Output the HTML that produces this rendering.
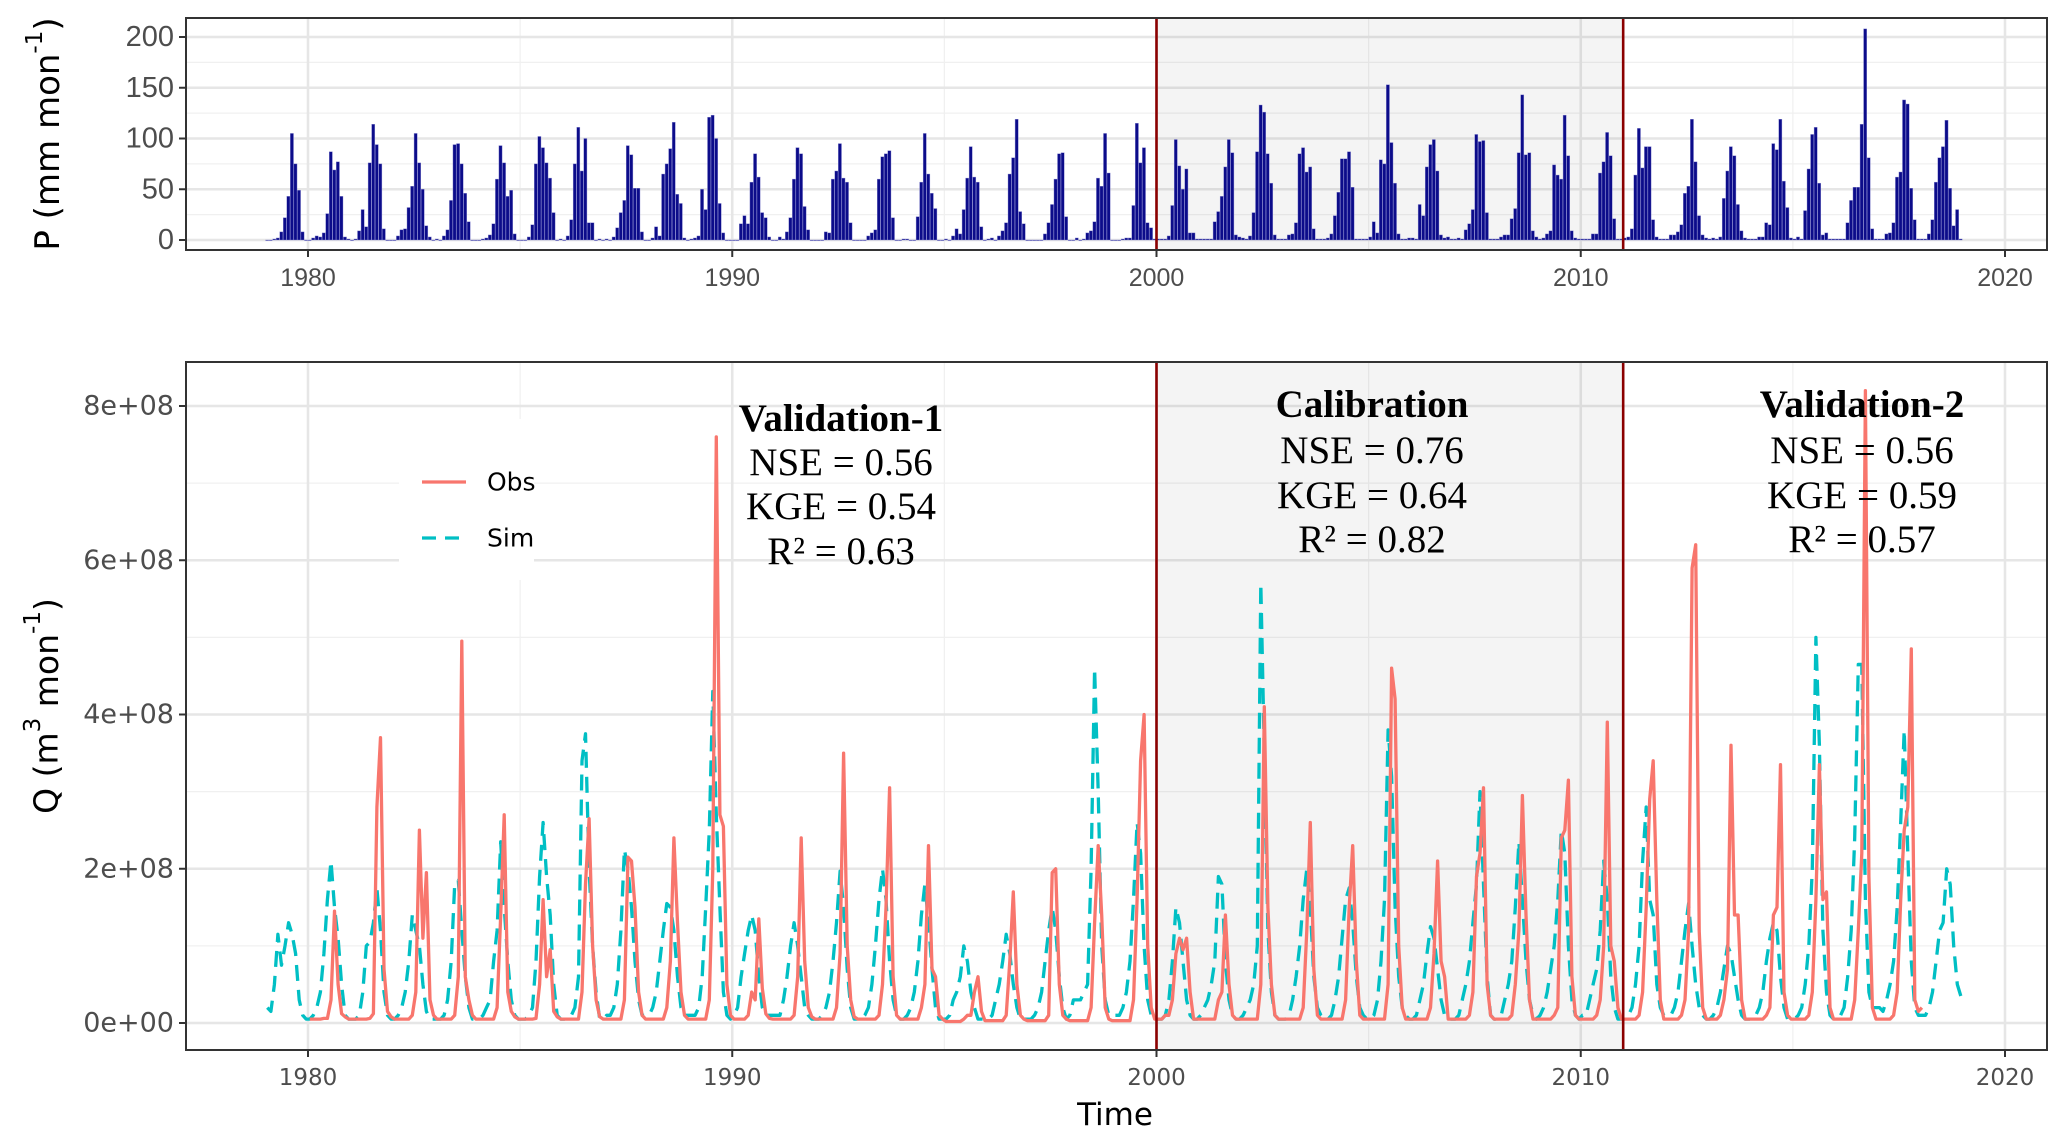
<!DOCTYPE html>
<html><head><meta charset="utf-8"><style>
html,body{margin:0;padding:0;background:#fff;}
svg{display:block;}
</style></head><body>
<svg id="chart" width="2067" height="1146" viewBox="0 0 2067 1146" xmlns="http://www.w3.org/2000/svg">
<g id="topPanel"></g>
<g id="botPanel"></g>
</svg>
<script>
const years = [1979,1980,1981,1982,1983,1984,1985,1986,1987,1988,1989,1990,1991,1992,1993,1994,1995,1996,1997,1998,1999,2000,2001,2002,2003,2004,2005,2006,2007,2008,2009,2010,2011,2012,2013,2014,2015,2016,2017,2018];
const precip = [
[0,0,1,2,8,22,43,105,75,49,8,0],
[0,2,4,3,7,26,87,69,77,43,3,1],
[0,1,9,30,13,76,114,94,75,11,0,0],
[0,4,10,11,32,53,105,76,50,14,3,0],
[1,0,4,10,39,94,95,75,46,18,0,0],
[0,1,2,5,16,60,93,76,43,49,6,0],
[0,0,3,15,75,102,91,76,61,27,0,1],
[0,4,20,75,111,68,100,17,17,0,1,0],
[1,0,3,12,27,39,93,84,51,51,8,0],
[0,2,13,4,65,75,90,116,45,36,2,0],
[1,2,4,50,30,121,123,100,36,7,0,0],
[0,0,16,24,16,57,85,62,27,22,3,0],
[0,3,1,8,22,60,91,85,33,10,0,0],
[0,0,8,7,60,68,95,61,57,17,0,0],
[0,0,4,7,10,60,82,85,88,22,0,0],
[1,1,0,0,23,57,105,65,46,31,0,0],
[1,0,4,11,6,30,61,92,62,57,13,0],
[1,2,0,4,9,17,65,81,119,28,16,0],
[0,0,0,0,6,17,35,60,85,86,23,0],
[0,2,0,1,7,9,18,61,53,105,66,0],
[0,0,1,2,2,34,115,76,91,17,12,1],
[1,1,1,4,34,99,73,50,70,7,7,1],
[1,1,1,1,18,28,43,72,99,86,5,3],
[2,1,4,27,87,133,126,85,56,5,1,1],
[1,5,6,17,85,91,67,72,11,1,1,1],
[2,6,24,47,80,80,87,52,1,1,1,1],
[3,18,7,79,75,153,96,56,6,1,1,2],
[2,1,35,24,72,94,99,68,5,2,3,1],
[1,2,1,10,16,30,104,97,98,27,1,1],
[1,3,5,5,21,31,86,143,84,86,9,3],
[1,2,6,9,74,64,60,123,83,9,2,1],
[1,1,1,6,6,66,77,106,83,21,1,1],
[2,3,11,64,110,71,92,92,20,3,1,1],
[1,5,5,8,15,46,53,119,77,24,5,2],
[1,2,1,3,41,68,92,83,35,9,2,1],
[1,1,3,3,17,15,95,89,119,58,32,2],
[1,3,1,29,70,104,111,56,5,7,1,1],
[1,1,1,17,39,52,52,114,208,81,11,1],
[1,1,6,7,17,62,67,138,134,51,20,1],
[1,1,6,20,57,81,92,118,51,14,30,1]
];
const obsFlow = [
[null,null,null,null,null,null,null,null,null,null,null,null],
[0.05,0.05,0.05,0.05,0.06,0.06,0.3,1.45,0.5,0.12,0.08,0.05],
[0.05,0.05,0.05,0.05,0.05,0.06,0.12,2.8,3.7,0.7,0.15,0.08],
[0.05,0.05,0.05,0.05,0.05,0.1,0.4,2.5,1.1,1.95,0.3,0.1],
[0.05,0.05,0.05,0.05,0.05,0.1,0.6,4.95,0.6,0.3,0.1,0.05],
[0.05,0.05,0.05,0.05,0.05,0.2,1.4,2.7,0.4,0.15,0.08,0.05],
[0.05,0.05,0.05,0.05,0.06,0.5,1.6,0.6,0.95,0.15,0.08,0.05],
[0.05,0.05,0.05,0.05,0.05,0.4,1.8,2.65,1.0,0.3,0.08,0.05],
[0.05,0.05,0.05,0.05,0.05,0.3,2.15,2.1,1.5,0.4,0.1,0.05],
[0.05,0.05,0.05,0.05,0.05,0.2,0.8,2.4,1.3,0.4,0.1,0.05],
[0.05,0.05,0.05,0.05,0.05,0.3,2.0,7.6,2.7,2.55,0.5,0.1],
[0.05,0.05,0.05,0.05,0.1,0.4,0.3,1.35,0.45,0.12,0.06,0.05],
[0.05,0.05,0.05,0.05,0.05,0.1,0.6,2.4,0.8,0.2,0.08,0.05],
[0.05,0.05,0.05,0.05,0.05,0.2,0.9,3.5,1.0,0.3,0.08,0.05],
[0.05,0.05,0.05,0.05,0.05,0.1,0.5,1.5,3.05,0.6,0.1,0.05],
[0.05,0.05,0.05,0.05,0.05,0.2,0.5,2.3,0.7,0.6,0.1,0.05],
[0.02,0.02,0.02,0.02,0.02,0.05,0.1,0.1,0.4,0.6,0.15,0.03],
[0.03,0.03,0.03,0.03,0.03,0.1,0.8,1.7,0.5,0.1,0.05,0.03],
[0.03,0.03,0.03,0.03,0.03,0.1,1.95,2.0,0.5,0.1,0.05,0.03],
[0.03,0.03,0.03,0.03,0.03,0.2,1.3,2.3,1.4,0.2,0.05,0.03],
[0.03,0.03,0.03,0.03,0.03,0.3,1.6,3.4,4.0,1.0,0.2,0.05],
[0.05,0.05,0.1,0.1,0.3,0.9,1.1,0.95,1.1,0.4,0.05,0.05],
[0.05,0.05,0.05,0.05,0.05,0.3,0.4,1.4,0.5,0.1,0.05,0.05],
[0.05,0.05,0.05,0.05,0.05,0.5,4.1,1.5,0.5,0.1,0.05,0.05],
[0.05,0.05,0.05,0.05,0.05,0.2,1.2,2.6,0.7,0.1,0.05,0.05],
[0.05,0.05,0.05,0.05,0.05,0.3,1.5,2.3,0.8,0.1,0.05,0.05],
[0.05,0.05,0.05,0.05,0.05,0.5,4.6,4.2,1.0,0.2,0.05,0.05],
[0.05,0.05,0.05,0.05,0.05,0.2,0.9,2.1,0.8,0.6,0.05,0.05],
[0.05,0.05,0.05,0.05,0.1,0.4,1.9,2.2,3.05,0.5,0.1,0.05],
[0.05,0.05,0.05,0.05,0.1,0.5,1.2,2.95,1.4,0.3,0.05,0.05],
[0.05,0.05,0.05,0.05,0.1,0.2,2.4,2.5,3.15,0.6,0.1,0.05],
[0.05,0.05,0.05,0.05,0.1,0.3,1.0,3.9,1.0,0.8,0.2,0.05],
[0.05,0.05,0.05,0.05,0.1,0.4,1.5,2.9,3.4,1.6,0.3,0.05],
[0.05,0.05,0.05,0.05,0.1,0.3,1.2,5.9,6.2,1.2,0.2,0.05],
[0.05,0.05,0.05,0.1,0.3,0.7,3.6,1.4,1.4,0.3,0.05,0.05],
[0.05,0.05,0.05,0.05,0.1,0.2,1.4,1.5,3.35,0.4,0.1,0.05],
[0.05,0.05,0.05,0.05,0.1,0.4,1.6,3.35,1.6,1.7,0.2,0.05],
[0.05,0.05,0.05,0.05,0.05,0.3,1.2,2.2,8.2,1.9,0.2,0.05],
[0.05,0.05,0.05,0.05,0.1,0.4,1.6,2.5,2.8,4.85,0.3,0.15],
[0.2,null,null,null,null,null,null,null,null,null,null,null]
];
const simFlow = [
[0.2,0.15,0.5,1.15,0.75,1.0,1.3,1.15,0.9,0.3,0.1,0.05],
[0.05,0.1,0.2,0.4,0.9,1.6,2.1,1.5,1.1,0.5,0.1,0.05],
[0.05,0.05,0.1,0.4,1.0,1.05,1.3,1.75,1.2,0.4,0.1,0.05],
[0.05,0.1,0.2,0.4,0.8,1.4,1.2,1.0,0.5,0.15,0.05,0.05],
[0.05,0.05,0.1,0.3,0.8,1.8,1.85,1.2,0.6,0.2,0.05,0.05],
[0.05,0.1,0.2,0.3,0.8,1.2,2.35,1.5,0.8,0.3,0.1,0.05],
[0.05,0.05,0.1,0.2,0.8,1.9,2.6,1.9,1.4,0.5,0.1,0.05],
[0.05,0.05,0.1,0.2,0.6,3.4,3.75,2.0,1.0,0.4,0.05,0.05],
[0.1,0.1,0.2,0.5,1.2,2.25,2.0,1.5,0.8,0.3,0.1,0.1],
[0.1,0.2,0.4,0.8,1.2,1.55,1.5,1.2,0.6,0.2,0.1,0.1],
[0.1,0.1,0.2,0.6,1.5,2.5,4.3,2.7,1.5,0.4,0.1,0.05],
[0.1,0.2,0.6,0.9,1.2,1.4,1.2,0.6,0.2,0.1,0.1,0.1],
[0.1,0.1,0.3,0.6,1.0,1.3,1.0,0.6,0.2,0.1,0.05,0.05],
[0.05,0.1,0.2,0.4,0.8,1.3,1.97,1.5,0.7,0.2,0.05,0.05],
[0.05,0.1,0.2,0.5,1.0,1.6,2.0,1.6,0.8,0.3,0.1,0.05],
[0.05,0.1,0.2,0.4,0.8,1.4,1.8,1.3,0.7,0.2,0.05,0.05],
[0.05,0.1,0.3,0.4,0.6,1.0,0.8,0.4,0.2,0.05,0.05,0.05],
[0.05,0.1,0.3,0.5,0.8,1.15,0.9,0.5,0.2,0.05,0.05,0.05],
[0.05,0.1,0.2,0.4,0.8,1.2,1.5,1.2,0.6,0.2,0.05,0.1],
[0.3,0.3,0.3,0.4,0.5,2.0,4.6,3.0,1.0,0.3,0.1,0.1],
[0.1,0.1,0.2,0.4,0.8,1.6,2.6,2.2,1.0,0.3,0.1,0.05],
[0.05,0.05,0.1,0.3,0.8,1.5,1.3,0.8,0.3,0.1,0.05,0.05],
[0.1,0.2,0.3,0.5,0.8,1.9,1.8,0.8,0.3,0.1,0.05,0.05],
[0.1,0.2,0.3,0.5,1.0,5.7,3.5,1.2,0.4,0.1,0.05,0.05],
[0.05,0.1,0.3,0.6,1.0,1.6,2.0,1.5,0.6,0.2,0.1,0.05],
[0.05,0.1,0.3,0.6,1.1,1.6,1.75,1.3,0.6,0.2,0.1,0.05],
[0.05,0.1,0.3,0.8,1.6,3.8,3.2,1.5,0.6,0.2,0.1,0.05],
[0.05,0.1,0.3,0.5,0.9,1.25,1.1,0.7,0.3,0.1,0.05,0.05],
[0.05,0.1,0.3,0.5,0.8,1.3,1.8,3.0,1.8,0.6,0.1,0.05],
[0.05,0.1,0.3,0.5,0.8,1.5,2.35,1.6,0.8,0.3,0.1,0.05],
[0.1,0.2,0.4,0.7,1.0,1.6,2.5,2.2,1.0,0.3,0.1,0.05],
[0.1,0.1,0.3,0.5,0.7,1.2,2.1,1.6,0.6,0.2,0.05,0.05],
[0.05,0.1,0.2,0.5,1.0,2.1,2.8,1.6,1.4,0.5,0.2,0.1],
[0.1,0.1,0.2,0.4,0.8,1.2,1.55,1.0,0.5,0.2,0.1,0.05],
[0.05,0.1,0.2,0.4,0.7,1.0,0.9,0.6,0.3,0.1,0.05,0.05],
[0.05,0.1,0.2,0.4,0.8,1.1,1.3,1.2,0.6,0.2,0.05,0.05],
[0.05,0.1,0.2,0.5,1.0,2.0,5.0,3.6,1.2,0.4,0.1,0.05],
[0.05,0.1,0.2,0.6,1.2,2.4,4.65,4.65,1.6,0.4,0.2,0.2],
[0.2,0.15,0.3,0.5,0.8,1.5,2.6,3.8,2.2,0.8,0.2,0.1],
[0.1,0.1,0.2,0.4,0.8,1.2,1.3,2.0,1.8,1.0,0.5,0.35]
];
const xTicks = [1980,1990,2000,2010,2020];
const xMinor = [1985,1995,2005,2015];
const pTicks = [0,50,100,150,200];
const pMinor = [25,75,125,175];
const qTicks = [0,2,4,6,8];
const qTickLabels = ["0e+00","2e+08","4e+08","6e+08","8e+08"];
const qMinor = [1,3,5,7];
const periods = [2000,2011];

const NS='http://www.w3.org/2000/svg';
const L=186,R=2047;
function X(t){return 308+(t-1980)*(2005-308)/40;}
function YP(v){return 240-v*(240-37)/200;}
function YQ(v){return 1023-v*(1023-406)/8;}
function el(tag,attrs,parent){const e=document.createElementNS(NS,tag);for(const k in attrs)e.setAttribute(k,attrs[k]);parent.appendChild(e);return e;}

function panel(g,y0,y1,yfun,ticks,minor,labels,name,labelFont){
  const bg=el('rect',{x:L,y:y0,width:R-L,height:y1-y0,fill:'#fff'},g);
  
  
  minor.forEach(v=>{const y=yfun(v);const l=el('line',{x1:L,x2:R,y1:y,y2:y,stroke:'#f0f0f0','stroke-width':1.3},g);});
  xMinor.forEach(v=>{const x=X(v);const l=el('line',{x1:x,x2:x,y1:y0,y2:y1,stroke:'#f0f0f0','stroke-width':1.3},g);});
  ticks.forEach(v=>{const y=yfun(v);const l=el('line',{x1:L,x2:R,y1:y,y2:y,stroke:'#e6e6e6','stroke-width':2.6},g);});
  xTicks.forEach(v=>{const x=X(v);const l=el('line',{x1:x,x2:x,y1:y0,y2:y1,stroke:'#e6e6e6','stroke-width':2.6},g);});
  const sh=el('rect',{x:X(periods[0]),y:y0,width:X(periods[1])-X(periods[0]),height:y1-y0,fill:'rgba(0,0,0,0.045)'},g);
  
  
  ticks.forEach((v,i)=>{const y=yfun(v);
    el('line',{x1:L-7,x2:L,y1:y,y2:y,stroke:'#333','stroke-width':2},g);
    const t=el('text',{x:L-12,y:y,'text-anchor':'end','dominant-baseline':'central',fill:'#4d4d4d','font-family':labelFont.f,'font-size':labelFont.s},g);
    t.textContent=labels[i];
    
    
  });
  xTicks.forEach(v=>{const x=X(v);
    el('line',{x1:x,x2:x,y1:y1,y2:y1+7,stroke:'#333','stroke-width':2},g);
    const t=el('text',{x:x,y:y1+28,'text-anchor':'middle','dominant-baseline':'central',fill:'#4d4d4d','font-family':labelFont.xf,'font-size':labelFont.xs},g);
    t.textContent=v;
    
    
  });
}

const topG=document.getElementById('topPanel');
panel(topG,18,250,YP,pTicks,pMinor,pTicks.map(String),'precip',{f:'"Liberation Sans Narrow","Liberation Sans",sans-serif',s:29,xf:'"Liberation Sans",sans-serif',xs:25});
const bw=(X(1981)-X(1980))/12;
years.forEach((yr,i)=>{precip[i].forEach((v,m)=>{
  const x=X(yr+m/12);
  const b=el('rect',{x:x,y:YP(v),width:bw*0.9,height:Math.max(0.6,YP(0)-YP(v)),fill:'#0c0c8a',stroke:'#8a8ad0','stroke-width':0.4},topG);
  
  
});});
periods.forEach(p=>{const l=el('line',{x1:X(p),x2:X(p),y1:18,y2:250,stroke:'#8b0000','stroke-width':2.6},topG);});
const tb=el('rect',{x:L,y:18,width:R-L,height:232,fill:'none',stroke:'#333','stroke-width':2},topG);


const pt=el('text',{transform:'translate(48,134) rotate(-90)','text-anchor':'middle','dominant-baseline':'central','font-family':'"DejaVu Sans",sans-serif','font-size':34,fill:'#000'},topG);
pt.innerHTML='P (mm mon<tspan dy="-13" font-size="23">-1</tspan><tspan dy="13">)</tspan>';



const botG=document.getElementById('botPanel');
panel(botG,362,1050,YQ,qTicks,qMinor,qTickLabels,'flow',{f:'"DejaVu Sans",sans-serif',s:27,xf:'"DejaVu Sans",sans-serif',xs:23});
function series(arr,color,dash,name){
  let segs=[],cur=[];
  years.forEach((yr,i)=>{arr[i].forEach((v,m)=>{
    if(v===null){if(cur.length)segs.push(cur);cur=[];return;}
    cur.push(X(yr+(m+0.5)/12).toFixed(1)+','+YQ(v).toFixed(1));
  });});
  if(cur.length)segs.push(cur);
  segs.forEach(s=>{
    const a={points:s.join(' '),fill:'none',stroke:color,'stroke-width':3.3,'stroke-linejoin':'round'};
    if(dash)a['stroke-dasharray']=dash;
    const p=el('polyline',a,botG);
    
    
  });
}
series(simFlow,'#00BFC4','16 9','sim-line');
series(obsFlow,'#F8766D',null,'obs-line');
periods.forEach(p=>{const l=el('line',{x1:X(p),x2:X(p),y1:362,y2:1050,stroke:'#8b0000','stroke-width':2.6},botG);});
const bb=el('rect',{x:L,y:362,width:R-L,height:688,fill:'none',stroke:'#333','stroke-width':2},botG);


const qt=el('text',{transform:'translate(46,706) rotate(-90)','text-anchor':'middle','dominant-baseline':'central','font-family':'"DejaVu Sans",sans-serif','font-size':33,fill:'#000'},botG);
qt.innerHTML='Q (m<tspan dy="-13" font-size="23">3</tspan><tspan dy="13"> mon</tspan><tspan dy="-13" font-size="23">-1</tspan><tspan dy="13">)</tspan>';


const tt=el('text',{x:1115,y:1115,'text-anchor':'middle','dominant-baseline':'central','font-family':'"DejaVu Sans",sans-serif','font-size':31,fill:'#000'},botG);
tt.textContent='Time';



const lg=el('g',{},botG);


el('rect',{x:399,y:419,width:135,height:161,fill:'#fff'},lg);
const lo=el('line',{x1:422,x2:466,y1:482,y2:482,stroke:'#F8766D','stroke-width':3.3},lg);


const ls=el('line',{x1:422,x2:466,y1:538,y2:538,stroke:'#00BFC4','stroke-width':3.3,'stroke-dasharray':'14 9'},lg);


[['Obs',482],['Sim',538]].forEach(a=>{const t=el('text',{x:487,y:a[1],'dominant-baseline':'central','font-family':'"DejaVu Sans",sans-serif','font-size':25,fill:'#000'},lg);t.textContent=a[0];});

const ann=[
 {x:841,ys:[431,475,519,564],lines:['Validation-1','NSE = 0.56','KGE = 0.54','R² = 0.63']},
 {x:1372,ys:[417,463,508,552],lines:['Calibration','NSE = 0.76','KGE = 0.64','R² = 0.82']},
 {x:1862,ys:[417,463,508,552],lines:['Validation-2','NSE = 0.56','KGE = 0.59','R² = 0.57']}
];
ann.forEach(a=>{a.lines.forEach((s,i)=>{
  const t=el('text',{x:a.x,y:a.ys[i],'text-anchor':'middle','font-family':'"Liberation Serif",serif','font-size':39,'font-weight':i===0?'bold':'normal',fill:'#000'},botG);
  t.textContent=s;
  
  
});});
</script>
</body></html>
